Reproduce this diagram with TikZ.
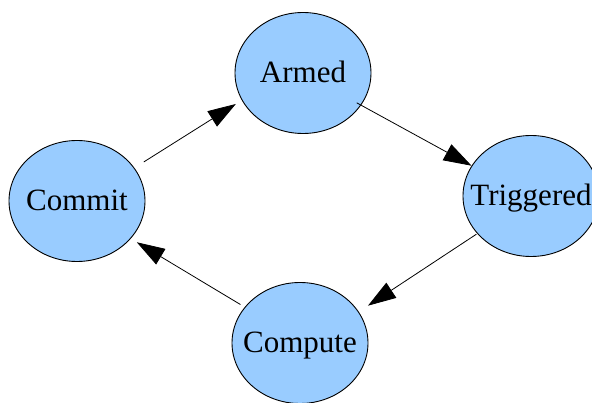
\documentclass[tikz,border=0pt]{standalone}
\usepackage{fontspec}
\setmainfont{Liberation Serif}
\usetikzlibrary{shapes.geometric,arrows.meta}
\definecolor{stateblue}{HTML}{99CCFF}
\newcommand{\zw}[1]{\makebox[0pt]{#1}}
\begin{document}
\begin{tikzpicture}[x=1pt,y=-1pt,
  state/.style={ellipse,draw=black,line width=0.9pt,fill=stateblue,
    minimum width=136pt,minimum height=121pt,inner sep=0pt,
    text height=26pt,text depth=6pt,
    font=\fontsize{31}{36}\selectfont},
  link/.style={line width=0.8pt,-{Triangle[length=28pt,width=18pt]}}]
\useasboundingbox (0,0) rectangle (592,403);
\clip (0,0) rectangle (592,403);
\node[state] (armed) at (303,73) {\zw{Armed}};
\node[state] (triggered) at (531,196) {\zw{Triggered}};
\node[state] (commit) at (77,201) {\zw{Commit}};
\node[state] (compute) at (300,343) {\zw{Compute}};
\draw[link,shorten <=11pt,shorten >=7pt] (commit.30) -- (armed.204);
\draw[link,shorten <=-5pt,shorten >=0pt] (armed.-29) -- (triggered.153);
\draw[link,shorten <=1pt,shorten >=11pt] (triggered.215) -- (compute.28);
\draw[link,shorten <=5pt,shorten >=7pt] (compute.147) -- (commit.-35);
\end{tikzpicture}
\end{document}
